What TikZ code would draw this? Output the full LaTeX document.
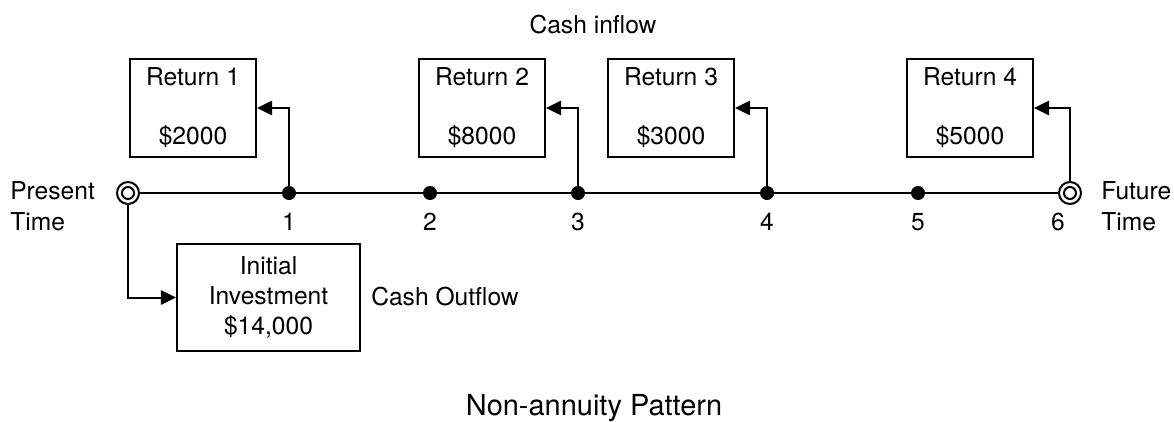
\documentclass[tikz,border=0pt]{standalone}
\usepackage{fontspec}
\setmainfont{TeX Gyre Heros}
\usetikzlibrary{arrows.meta}

\begin{document}
\begin{tikzpicture}[x=0.025cm,y=-0.025cm,
    every node/.style={font=\fontsize{17.5}{21.5}\selectfont},
    box/.style={draw,line width=0.05cm,inner sep=0pt,align=center},
    retbox/.style={box,minimum width=3.15cm,minimum height=2.45cm},
    dot/.style={circle,fill,inner sep=0pt,minimum size=0.35cm},
    endpt/.style={circle,draw,line width=0.05cm,inner sep=0pt,minimum size=0.55cm,fill=white,
      path picture={\draw[line width=0.05cm] (path picture bounding box.center) circle (0.15cm);}},
    arr/.style={line width=0.05cm,-{Triangle[length=0.38cm,width=0.36cm]}}]
    \useasboundingbox (0,0) rectangle (1174,421);
    \node[endpt] (t0) at (128,193) {};
    \node[endpt] (t6) at (1070,193) {};
    \foreach \n/\x in {1/289,2/430,3/578,4/767,5/918}
      \node[dot] (t\n) at (\x,193) {};
    \draw[line width=0.05cm] (t0) -- (t6);
    \foreach \n/\x in {1/289,2/430,3/578,4/767,5/918,6/1058}
      \node[anchor=base] (n\n) at (\x,230) {\n};
    \node[anchor=base west,align=left,inner xsep=0pt] (pres) at (10,230) {Present\\Time};
    \node[anchor=base west,align=left,inner xsep=0pt] (fut) at (1101,230) {Future\\Time};
    % returns above the line
    \foreach \n/\x/\v in {1/193/2000,2/482/8000,3/671/3000,4/970/5000}
      \node[retbox] (r\n) at (\x,108) {Return \n\\[20.5pt]\$\v};
    \foreach \a/\b in {t1/r1,t3/r2,t4/r3,t6/r4}
      \draw[arr] (\a) |- (\b);
    \node[anchor=base] (inflow) at (593,33) {Cash inflow};
    % outlay below the line
    \node[box,minimum width=4.575cm,minimum height=2.675cm] (inv) at (268.5,297.5) {Initial\\Investment\\\$14,000};
    \draw[arr] (t0) |- (inv);
    \node[anchor=base west,inner xsep=0pt] (outflow) at (371,305) {Cash Outflow};
    \node[anchor=base,font=\fontsize{20.6}{24}\selectfont] (title) at (594,415) {Non-annuity Pattern};
\end{tikzpicture}
\end{document}
